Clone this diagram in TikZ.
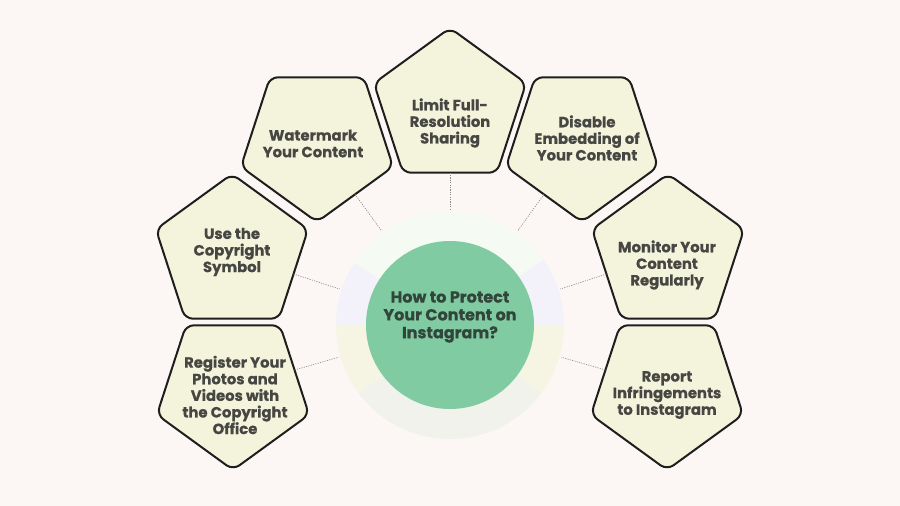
\documentclass[tikz,border=0pt]{standalone}
\usepackage{fontspec}
\setmainfont{Poppins}[BoldFeatures={FakeBold=0.7}]
\usetikzlibrary{calc}
\definecolor{bg}{HTML}{FCF7F5}
\definecolor{pentfill}{HTML}{F4F4DC}
\definecolor{pentline}{HTML}{1E1E1E}
\definecolor{txt}{HTML}{464642}
\definecolor{hubtxt}{HTML}{32453A}
\definecolor{hubfill}{HTML}{80CBA2}
\definecolor{mint}{HTML}{F5FAF2}
\definecolor{lav}{HTML}{F3F2FA}
\definecolor{yel}{HTML}{F6F5E4}
\definecolor{gry}{HTML}{F1F2EC}
\definecolor{connc}{HTML}{8A8A8A}
\newcommand\mypent[4]{% name, x, y, start angle
  \coordinate (#1c) at (#2,#3);
  \draw[pentbox] ($(#1c)+(#4:80pt)$) -- ($(#1c)+(#4+72:80pt)$) -- ($(#1c)+(#4+144:80pt)$)
     -- ($(#1c)+(#4+216:80pt)$) -- ($(#1c)+(#4+288:80pt)$) -- cycle;
}
\begin{document}
\begin{tikzpicture}[x=1pt,y=1pt,
  pentbox/.style={draw=pentline, line width=2pt, fill=pentfill, rounded corners=8pt, line join=round},
  lbl/.style={font=\fontsize{14.8}{16.6}\selectfont\bfseries, text=txt, align=center, inner sep=0pt},
  hublbl/.style={font=\fontsize{16}{17.8}\selectfont\bfseries, text=hubtxt, align=center, inner sep=0pt},
  conn/.style={draw=connc, line width=0.6pt, dash pattern=on 1.2pt off 1.2pt}]
\fill[bg] (0,0) rectangle (900,506);
\useasboundingbox (0,0) rectangle (900,506);
\coordinate (ctr) at (450,181);
% ring segments
\fill[mint] (ctr) -- ++(35:114pt) arc[start angle=35, end angle=147, radius=114pt] -- cycle;
\fill[lav] (ctr) -- ++(147:114pt) arc[start angle=147, end angle=180, radius=114pt] -- cycle;
\fill[lav] (ctr) -- ++(0:114pt) arc[start angle=0, end angle=35, radius=114pt] -- cycle;
\fill[yel] (ctr) -- ++(180:114pt) arc[start angle=180, end angle=217, radius=114pt] -- cycle;
\fill[yel] (ctr) -- ++(323:114pt) arc[start angle=323, end angle=360, radius=114pt] -- cycle;
\fill[gry] (ctr) -- ++(217:114pt) arc[start angle=217, end angle=323, radius=114pt] -- cycle;
\node[circle, fill=hubfill, minimum size=168pt, inner sep=0pt] (hub) at (ctr) {};
\node[hublbl] (hubtext) at (450,189) {How to Protect\\Your Content on\\Instagram?};
% pentagons
\mypent{limit}{450}{398}{90}
\mypent{water}{317}{364}{270}
\mypent{disab}{582}{364}{270}
\mypent{usec}{232}{252}{90}
\mypent{moni}{668}{252}{90}
\mypent{regi}{233}{116}{270}
\mypent{repo}{667}{116}{270}
\node[lbl] (limit) at (450,383) {Limit Full-\\Resolution\\Sharing};
\node[lbl] (water) at (313,362.5) {Watermark\\Your Content};
\node[lbl] (disab) at (587,368) {Disable\\Embedding of\\Your Content};
\node[lbl] (usec) at (232,254) {Use the\\Copyright\\Symbol};
\node[lbl] (moni) at (667,241) {Monitor Your\\Content\\Regularly};
\node[lbl] (regi) at (235,111) {Register Your\\Photos and\\Videos with\\the Copyright\\Office};
\node[lbl] (repo) at (667,111) {Report\\Infringements\\to Instagram};
% connectors
\foreach \n/\a in {limit/270, water/306, disab/234, usec/342, moni/198, regi/18, repo/162}{
  \coordinate (\n e) at ($(\n c)+(\a:64.7pt)$);
  \coordinate (\n r) at ($(ctr)!116pt!(\n e)$);
  \draw[conn] (\n e) -- (\n r);
}
\end{tikzpicture}
\end{document}
